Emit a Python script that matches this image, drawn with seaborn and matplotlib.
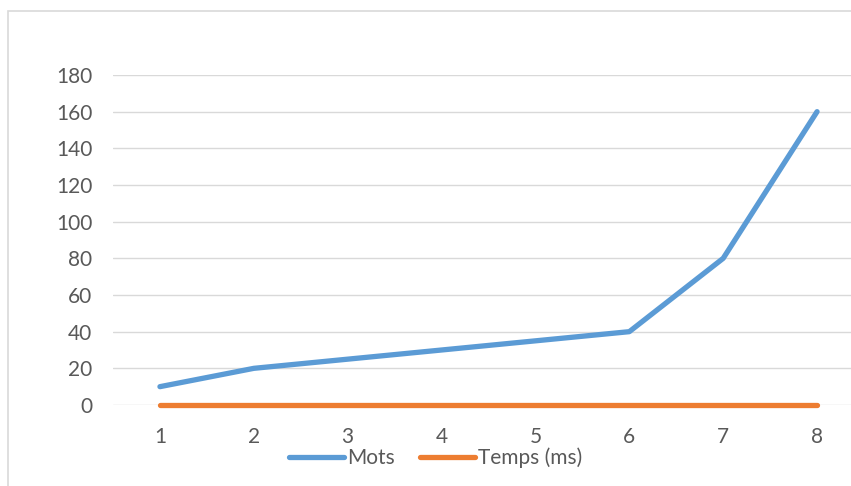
import matplotlib
matplotlib.use("Agg")
import matplotlib.pyplot as plt
import seaborn as sns
import pandas as pd
from matplotlib.patches import Rectangle

# data
essais = [1, 2, 3, 4, 5, 6, 7, 8]
mots = [10, 20, 25, 30, 35, 40, 80, 160]
temps = [0, 0, 0, 0, 0, 0, 0, 0]
y_ticks = [0, 20, 40, 60, 80, 100, 120, 140, 160, 180]

df = pd.DataFrame({
    "essai": essais * 2,
    "valeur": mots + temps,
    "serie": ["Mots"] * len(mots) + ["Temps (ms)"] * len(temps),
})

sns.set_style("white")
plt.rcParams['font.family'] = ['Lato', 'DejaVu Sans']

fig = plt.figure(figsize=(8.51, 4.86), dpi=100)
# axes placed in pixels like the Excel plot area (right side runs past the image)
W, H = 851, 486
ax = fig.add_axes([113 / W, (H - 405) / H, (864 - 113) / W, (405 - 75) / H])

# outer chart border
fig.patches.append(Rectangle((8 / W, -0.1), 1.2, 1 - 11 / H + 0.1, transform=fig.transFigure,
                             fill=False, edgecolor="#D9D9D9", linewidth=1.2))

palette = {"Mots": "#5B9BD5", "Temps (ms)": "#ED7D31"}
sns.lineplot(data=df, x="essai", y="valeur", hue="serie", palette=palette,
             linewidth=3.8, ax=ax, legend=False, solid_capstyle="round")
for line in ax.lines:
    line.set_clip_on(False)

ax.set_xlim(0.5, 8.5)
ax.set_ylim(0, 180)
ax.set_yticks(y_ticks)
ax.set_xticks(essais)
ax.set_xticklabels([str(e) for e in essais])
ax.yaxis.grid(True, color="#D9D9D9", linewidth=1.0)
ax.set_axisbelow(True)
for s in ax.spines.values():
    s.set_visible(False)
ax.tick_params(axis="both", length=0, labelsize=15, colors="#595959")
ax.tick_params(axis="y", pad=15)
ax.tick_params(axis="x", pad=16)
ax.set_xlabel("")
ax.set_ylabel("")

handles = [plt.Line2D([], [], color=palette[k], linewidth=3.8, solid_capstyle="round") for k in palette]
fig.legend(handles, list(palette.keys()), loc="center", bbox_to_anchor=(0.512, 1 - 458 / H),
           ncol=2, frameon=False, fontsize=15, labelcolor="#595959",
           handlelength=2.65, handletextpad=0.15, columnspacing=1.2)

fig.savefig("out.png", dpi=100)
